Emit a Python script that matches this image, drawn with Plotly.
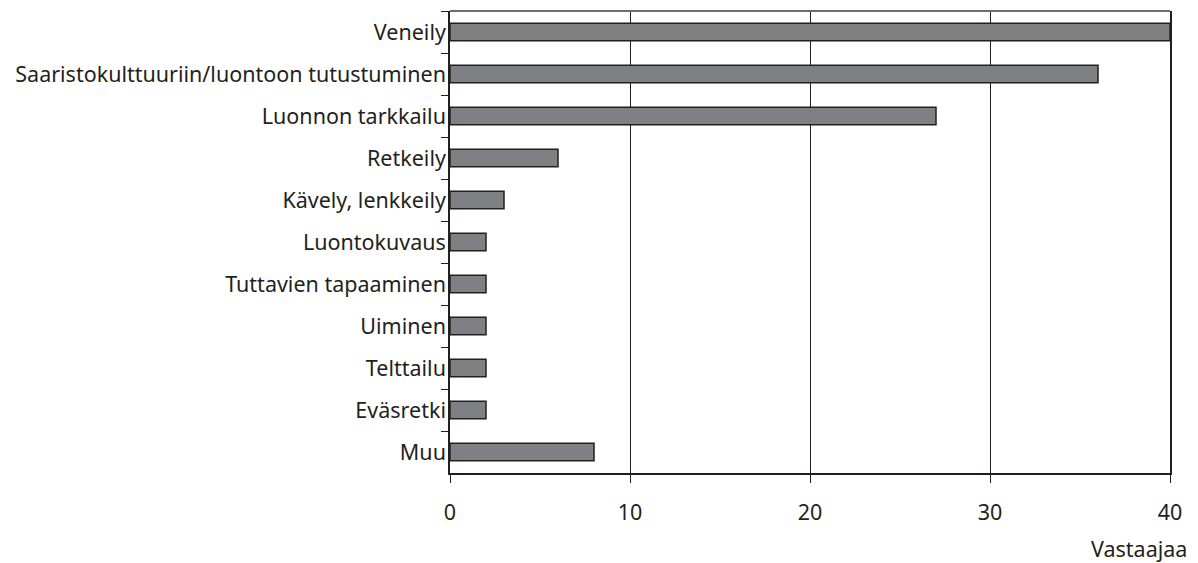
import plotly.graph_objects as go

categories = ["Veneily", "Saaristokulttuuriin/luontoon tutustuminen", "Luonnon tarkkailu",
              "Retkeily", "Kävely, lenkkeily", "Luontokuvaus", "Tuttavien tapaaminen",
              "Uiminen", "Telttailu", "Eväsretki", "Muu"]
values = [40, 36, 27, 6, 3, 2, 2, 2, 2, 2, 8]
x_ticks = [0, 10, 20, 30, 40]
x_title = "Vastaajaa"

fig = go.Figure(go.Bar(
    y=categories, x=values, orientation="h", width=0.42,
    marker=dict(color="#7f8084", line=dict(color="#231f20", width=1.5)),
))

font = dict(family="Noto Sans, Open Sans, sans-serif", size=21.5, color="#231f20")
fig.update_layout(
    width=1190, height=555, margin=dict(l=442, r=28, t=3, b=90),
    plot_bgcolor="white", paper_bgcolor="white", font=font, showlegend=False,
    annotations=[dict(text=x_title, xref="paper", yref="paper", x=1.026, y=-0.128,
                      xanchor="right", yanchor="top", showarrow=False, font=font)],
)
fig.update_xaxes(range=[0, 40], tickvals=x_ticks, showgrid=True, gridcolor="#231f20",
                 gridwidth=1, zeroline=False, showline=True, linecolor="#231f20",
                 linewidth=2, mirror=False, ticks="outside", ticklen=8,
                 tickcolor="#231f20", ticklabelstandoff=11)
fig.update_yaxes(autorange="reversed", categoryorder="array", categoryarray=categories,
                 showline=True, linecolor="#231f20", linewidth=1.5, mirror=True,
                 ticks="outside", tickson="boundaries", ticklen=7, tickcolor="#231f20",
                 showgrid=False, ticklabelstandoff=-2)
fig.add_shape(type="line", xref="paper", yref="paper", x0=0, x1=1, y0=1, y1=1,
              line=dict(color="#6d6e71", width=2))
fig.write_html("out.html")
